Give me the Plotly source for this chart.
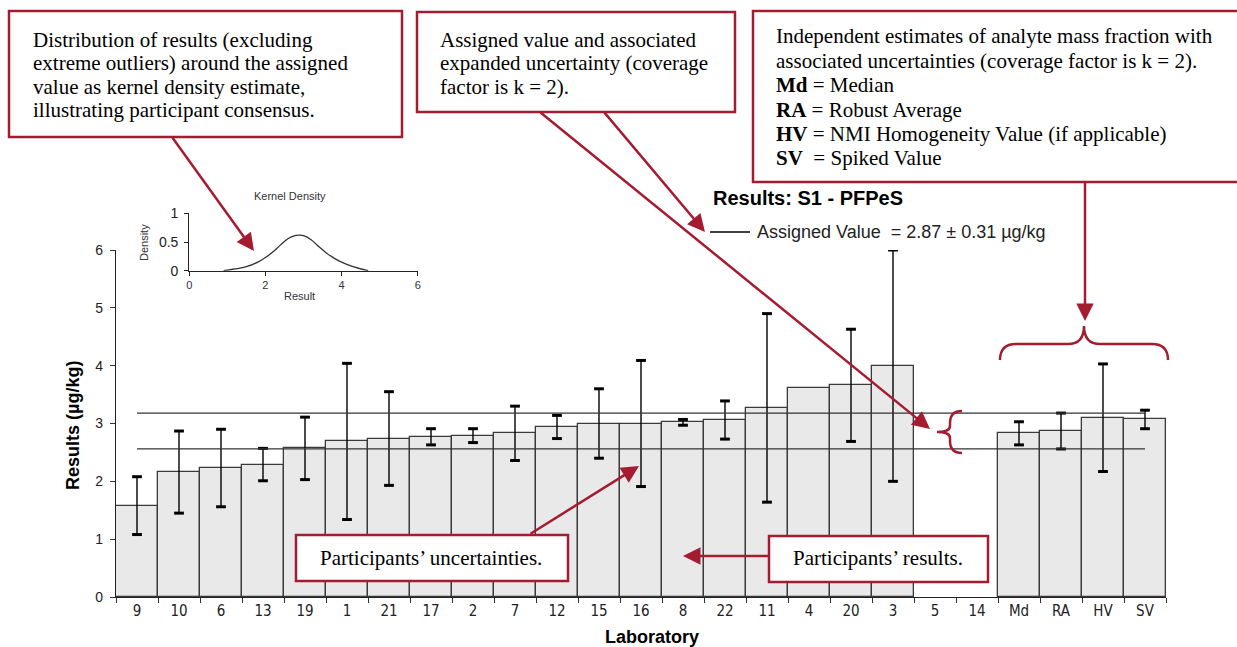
import plotly.graph_objects as go

W, H = 1237, 647

# Laboratory codes (participants, then the independent estimates)
labs = ["9", "10", "6", "13", "19", "1", "21", "17", "2", "7", "12", "15", "16",
        "8", "22", "11", "4", "20", "3", "5", "14", "Md", "RA", "HV", "SV"]
# Reported results (µg/kg); labs 5 and 14 reported nothing
results = [1.58, 2.16, 2.23, 2.29, 2.57, 2.69, 2.74, 2.77, 2.79, 2.83, 2.94, 3.00, 3.00,
           3.02, 3.06, 3.27, 3.61, 3.66, 4.00, None, None, 2.83, 2.87, 3.10, 3.07]
# Expanded uncertainties (k = 2)
uncert = [0.50, 0.71, 0.67, 0.28, 0.54, 1.35, 0.81, 0.14, 0.12, 0.47, 0.20, 0.60, 1.09,
          0.05, 0.33, 1.63, None, 0.97, 2.00, None, None, 0.20, 0.31, 0.93, 0.16]

assigned_value = 2.87
assigned_unc = 0.31

# Kernel density of the results (inset)
kde_x = [0.9, 1.2, 1.5, 1.8, 2.0, 2.2, 2.4, 2.6, 2.8, 2.9, 3.0, 3.2, 3.4, 3.6, 3.8, 4.0, 4.3, 4.7]
kde_y = [0.0, 0.03, 0.07, 0.15, 0.23, 0.33, 0.45, 0.56, 0.615, 0.62, 0.61, 0.54, 0.42, 0.31, 0.22, 0.15, 0.07, 0.0]

RED = "#a51c30"
SANS = "Liberation Sans, Arial, sans-serif"
NARROW = "Liberation Sans Narrow, Arial Narrow, DejaVu Sans Condensed, Liberation Sans, sans-serif"
SERIF = "Liberation Serif, Times New Roman, serif"


def px(x):
    return x / W


def py(y):
    return 1 - y / H


fig = go.Figure()

fig.add_trace(go.Bar(
    x=labs, y=results,
    marker=dict(color="#e9e9e9", line=dict(color="#3a3a3a", width=1.3)),
    error_y=dict(type="data", array=uncert, color="black", thickness=1.4, width=0),
    showlegend=False, hoverinfo="skip",
))

# error-bar end caps
cap_x, cap_y = [], []
for lab, r, u in zip(labs, results, uncert):
    if r is not None and u is not None:
        cap_x += [lab, lab]
        cap_y += [r - u, r + u]
fig.add_trace(go.Scatter(
    x=cap_x, y=cap_y, mode="markers",
    marker=dict(symbol="line-ew", size=7, line=dict(color="black", width=3)),
    showlegend=False, hoverinfo="skip",
))

# assigned value ± expanded uncertainty
for level in (assigned_value + assigned_unc, assigned_value - assigned_unc):
    fig.add_trace(go.Scatter(
        x=[labs[0], labs[-1]], y=[level, level], mode="lines",
        line=dict(color="#333333", width=1.3),
        showlegend=False, hoverinfo="skip",
    ))

# inset kernel density
fig.add_trace(go.Scatter(
    x=kde_x, y=kde_y, mode="lines", xaxis="x2", yaxis="y2",
    line=dict(color="#333333", width=1.3, shape="spline", smoothing=1.0),
    showlegend=False, hoverinfo="skip",
))

shapes = []
annotations = []

# text boxes
boxes = [(9, 11, 402, 137), (417, 12, 735, 112), (753, 11, 1250, 182),
         (296, 535, 568, 581), (769, 536, 988, 582)]
for x0, y0, x1, y1 in boxes:
    shapes.append(dict(type="rect", xref="paper", yref="paper",
                       x0=px(x0), x1=px(x1), y0=py(y1), y1=py(y0),
                       line=dict(color=RED, width=2.5), fillcolor="white", layer="above"))


def text_line(x, y, s, anchor="left", size=21):
    annotations.append(dict(x=px(x), y=py(y), xref="paper", yref="paper", text=s,
                            showarrow=False, xanchor=anchor, yanchor="middle",
                            font=dict(family=SERIF, size=size, color="black")))


for y, s in zip([40, 63, 87, 110], ["Distribution of results (excluding",
                                    "extreme outliers) around the assigned",
                                    "value as kernel density estimate,",
                                    "illustrating participant consensus."]):
    text_line(31, y, s)

for y, s in zip([40, 63, 87], ["Assigned value and associated",
                               "expanded uncertainty (coverage",
                               "factor is k = 2)."]):
    text_line(438, y, s)

for y, s in zip([36, 61, 85, 110, 134, 158],
                ["Independent estimates of analyte mass fraction with",
                 "associated uncertainties (coverage factor is k = 2).",
                 "<b>Md</b> = Median",
                 "<b>RA</b> = Robust Average",
                 "<b>HV</b> = NMI Homogeneity Value (if applicable)",
                 "<b>SV</b>\u00a0 = Spiked Value"]):
    text_line(774, y, s)

text_line(431, 558, "Participants\u2019 uncertainties.", anchor="center")
text_line(878, 558, "Participants\u2019 results.", anchor="center")

# arrows: (tail x, tail y, tip x, tip y)
arrows = [(172, 137, 254, 251), (540, 112, 930, 429), (604, 112, 705, 232),
          (530, 534, 639, 466), (769, 556, 683, 556), (1085, 182, 1085, 321)]
for tx, ty, hx, hy in arrows:
    annotations.append(dict(x=px(hx), y=py(hy), xref="paper", yref="paper",
                            ax=tx - hx, ay=ty - hy, axref="pixel", ayref="pixel",
                            text=" ", font=dict(size=1), borderpad=0,
                            showarrow=True, arrowhead=2, arrowsize=1.4,
                            arrowwidth=2.5, arrowcolor=RED))


def path(points):
    out = []
    for cmd, *coords in points:
        pts = " ".join(f"{px(coords[i]):.5f},{py(coords[i + 1]):.5f}" for i in range(0, len(coords), 2))
        out.append(cmd + pts)
    return " ".join(out)


# curly brace over Md..SV
shapes.append(dict(type="path", xref="paper", yref="paper", layer="above",
                   line=dict(color=RED, width=2.5),
                   path=path([("M", 1000, 360), ("Q", 1000, 344, 1016, 344), ("L", 1068, 344),
                              ("Q", 1084, 344, 1084, 326), ("Q", 1084, 344, 1100, 344),
                              ("L", 1152, 344), ("Q", 1168, 344, 1168, 360)])))
# curly brace beside the assigned value band
shapes.append(dict(type="path", xref="paper", yref="paper", layer="above",
                   line=dict(color=RED, width=2.5),
                   path=path([("M", 962, 411), ("Q", 950, 411, 950, 423), ("L", 950, 426),
                              ("Q", 950, 432, 937, 432), ("Q", 950, 432, 950, 438),
                              ("L", 950, 441), ("Q", 950, 453, 962, 453)])))

# title and legend
annotations.append(dict(x=px(808), y=py(198), xref="paper", yref="paper",
                        text="<b>Results: S1 - PFPeS</b>", showarrow=False,
                        xanchor="center", yanchor="middle",
                        font=dict(family=SANS, size=20, color="black")))
shapes.append(dict(type="line", xref="paper", yref="paper",
                   x0=px(710), x1=px(750), y0=py(232), y1=py(232),
                   line=dict(color="black", width=1.5)))
annotations.append(dict(x=px(755), y=py(232), xref="paper", yref="paper",
                        text="Assigned Value\u00a0 = 2.87 \u00b1 0.31 \u00b5g/kg", showarrow=False,
                        xanchor="left", yanchor="middle",
                        font=dict(family=SANS, size=18, color="#222222")))

# axis titles
annotations.append(dict(x=px(73), y=py(426), xref="paper", yref="paper",
                        text="<b>Results (\u00b5g/kg)</b>", showarrow=False, textangle=-90,
                        xanchor="center", yanchor="middle",
                        font=dict(family=SANS, size=18, color="black")))
annotations.append(dict(x=px(652), y=py(637), xref="paper", yref="paper",
                        text="<b>Laboratory</b>", showarrow=False,
                        xanchor="center", yanchor="middle",
                        font=dict(family=SANS, size=18, color="black")))

# inset labels
annotations.append(dict(x=px(290), y=py(196), xref="paper", yref="paper",
                        text="Kernel Density", showarrow=False,
                        xanchor="center", yanchor="middle",
                        font=dict(family=SANS, size=11, color="#333333")))
annotations.append(dict(x=px(144), y=py(243), xref="paper", yref="paper",
                        text="Density", showarrow=False, textangle=-90,
                        xanchor="center", yanchor="middle",
                        font=dict(family=SANS, size=11, color="#333333")))
annotations.append(dict(x=px(299), y=py(296), xref="paper", yref="paper",
                        text="Result", showarrow=False,
                        xanchor="center", yanchor="middle",
                        font=dict(family=SANS, size=11, color="#333333")))

fig.update_layout(
    width=W, height=H,
    margin=dict(l=0, r=0, t=0, b=0, pad=0, autoexpand=False),
    paper_bgcolor="white", plot_bgcolor="rgba(0,0,0,0)",
    bargap=0, showlegend=False,
    xaxis=dict(domain=[px(116), px(1166)], type="category", automargin=False,
               categoryorder="array", categoryarray=labs, range=[-0.5, len(labs) - 0.5],
               tickson="boundaries", ticks="outside", ticklen=5, tickcolor="#333333",
               showline=True, linecolor="#222222", linewidth=1.3,
               showgrid=False, zeroline=False,
               tickfont=dict(family=NARROW, size=15, color="#222222")),
    yaxis=dict(domain=[py(597), py(250)], range=[0, 6], dtick=1, automargin=False,
               ticks="outside", ticklen=5, tickcolor="#333333",
               showline=True, linecolor="#222222", linewidth=1.3,
               showgrid=False, zeroline=False, ticklabelstandoff=4,
               tickfont=dict(family=SANS, size=14, color="#222222")),
    xaxis2=dict(domain=[px(189.3), px(417.7)], anchor="y2", range=[0, 6], automargin=False,
                tickvals=[0, 2, 4, 6], ticks="outside", ticklen=4, tickcolor="#222222",
                showline=True, linecolor="#222222", linewidth=1.3,
                showgrid=False, zeroline=False,
                tickfont=dict(family=SANS, size=11, color="#333333")),
    yaxis2=dict(domain=[py(270.7), py(213.3)], anchor="x2", range=[0, 1], automargin=False,
                tickvals=[0, 0.5, 1], ticktext=["0", "0.5", "1"],
                ticks="outside", ticklen=4, tickcolor="#222222",
                showline=True, linecolor="#222222", linewidth=1.3,
                showgrid=False, zeroline=False, ticklabelstandoff=3,
                tickfont=dict(family=SANS, size=14, color="#222222")),
    shapes=shapes,
    annotations=annotations,
)

fig.write_html("out.html")
